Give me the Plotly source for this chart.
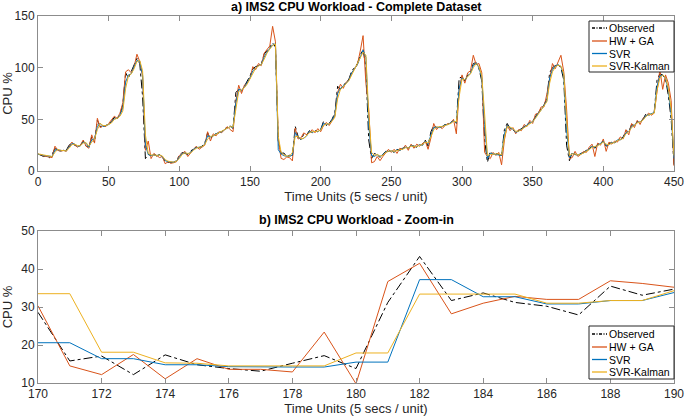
import plotly.graph_objects as go

# ---------------- data ----------------
t_full = list(range(0, 451, 2))

observed_full = [
    16.5, 15, 14, 15, 12.8, 16, 22, 19, 20, 19.5,
    20, 25, 27, 25, 24, 24.5, 29, 24, 23, 33,
    28, 49, 43, 42.5, 44, 45.5, 48, 52, 50, 55,
    64, 95, 90, 96, 103, 109, 104, 72, 12, 16,
    15, 16, 14.5, 16, 13, 9, 8.5, 8, 8.5, 10,
    15, 18, 17, 16, 19, 22, 23, 22.5, 24, 27,
    37, 31, 35, 36, 37.5, 38, 41, 42, 44, 41,
    76, 79, 77, 82, 86, 92, 99, 101, 102, 103.5,
    113, 116, 120, 124, 120, 28.6, 17.1, 17.4, 13.8, 15.2,
    13.8, 43.3, 33.7, 30.2, 35.5, 34.7, 39, 37, 39, 38,
    40, 48, 44, 46, 50, 56, 82, 79, 83, 86,
    89, 97, 100, 104, 112, 118, 100, 30, 12, 17,
    16, 13, 16, 19, 19, 20, 18, 21, 20, 22,
    23, 22, 25, 24, 23, 26, 25, 30, 24, 38,
    44, 42, 42, 43, 45, 45, 47, 49, 46, 90,
    91, 87, 93, 95, 104, 105, 99, 87, 30, 8.5,
    19, 16, 17, 16, 15, 40, 46, 41, 40, 37,
    39, 41, 43, 45, 47, 48, 53, 57, 60, 64,
    70, 95, 100, 102, 103, 100, 88, 25, 10, 18,
    16, 15, 17, 18, 20, 21, 25, 22, 26, 27,
    29, 24, 26, 28, 27, 31, 30, 33, 39, 38,
    45, 44, 48, 47, 50, 55, 54, 55, 57, 88,
    94, 93, 89, 73, 50, 6,
]

hwga_full = [
    16, 16, 14.5, 14, 14, 13, 24, 20, 19, 20,
    19, 24, 28, 25, 23, 25, 30, 24, 22, 35,
    27, 51, 42, 44, 43, 46, 49, 53, 51, 56,
    66, 96, 98, 95, 101, 113, 106, 92, 20, 29,
    12, 17, 15, 13, 14, 7, 9, 7.5, 8, 9,
    15, 17, 19, 14, 18, 21, 24, 21, 23, 25,
    38, 29, 36, 34, 38, 37, 40, 43, 40, 38,
    68, 83, 75, 83, 85, 90, 101, 98, 104, 102,
    114, 117, 121, 140, 125, 30.3, 12.2, 11.1, 13.6, 12.9,
    9.8, 41.5, 31.0, 32.0, 36.9, 35.2, 37, 40, 37, 41,
    38, 44, 47, 44, 48, 53, 76, 84, 80, 86,
    88, 95, 99, 103, 116, 131, 85, 60, 8, 9,
    14, 10, 14, 18, 21, 18, 21, 17, 22, 21,
    25, 20, 26, 22, 26, 24, 27, 29, 21, 32,
    46, 40, 43, 41, 44, 46, 46, 50, 36, 78,
    93, 85, 95, 97, 112, 103, 104, 95, 18, 14,
    12, 18, 15, 18, 6, 30, 44, 39, 42, 36,
    40, 39, 45, 43, 49, 46, 55, 56, 62, 62,
    74, 90, 104, 99, 106, 112, 96, 60, 12, 13,
    19, 14, 16, 19, 18, 23, 26, 14, 27, 25,
    31, 19, 28, 26, 29, 28, 33, 31, 40, 35,
    46, 42, 49, 45, 51, 53, 56, 54, 56, 75,
    98, 79, 93, 85, 68, 5,
]

svr_full = [
    16, 16, 15, 14.5, 14, 14, 20, 21, 19.5, 20,
    19.5, 23, 26.5, 26, 24, 24.5, 28, 27, 23, 30,
    31, 43, 46, 43, 44, 45, 47, 50.5, 51, 54,
    61, 86, 93, 94, 101, 107, 106, 93, 25, 16,
    15, 15.5, 15, 15.5, 14, 10, 9, 8.5, 8.5, 9.5,
    13, 17, 17.5, 16.5, 18, 21, 22.5, 23, 23.5, 26,
    34, 33, 34, 36, 37, 38, 40, 41.5, 43, 42,
    66, 79, 78, 81, 85, 90, 97, 100, 102, 103,
    110, 115, 119, 122, 123, 20.6, 16.4, 14.8, 14.3, 14.2,
    15.5, 37.2, 32.7, 30.8, 31.7, 33.8, 38, 37.5, 38.5, 38,
    40, 46, 45, 45.5, 49, 54, 75, 80, 82, 85,
    88, 95, 99, 103, 110, 117, 110, 45, 15, 14,
    16, 14, 15.5, 18.5, 19, 19.5, 18.5, 20.5, 20, 21.5,
    23, 22.5, 24.5, 24, 23.5, 25.5, 25, 29, 26, 35,
    42, 42.5, 42, 43, 44.5, 45, 46.5, 48.5, 47, 80,
    90, 88, 92, 94.5, 102, 104.5, 100, 90, 45, 12,
    17, 16.5, 16.5, 16, 15, 36, 44, 42, 40.5, 37.5,
    38.5, 40.5, 42.5, 44.5, 46.5, 47.5, 52, 56, 59, 63,
    68, 90, 98, 101.5, 103, 101, 92, 40, 13, 17,
    16, 15.5, 16.5, 17.5, 19.5, 21, 24, 23, 25, 26.5,
    28.5, 25, 25.5, 27.5, 27.5, 30, 30.5, 32, 37, 38,
    43, 44.5, 47, 47.5, 49.5, 53.5, 54.5, 55, 56.5, 82,
    92, 93, 90, 78, 55, 12,
]

svrk_full = [
    16.5, 16, 15.5, 14.5, 14.5, 14, 18, 21, 20, 20,
    19.5, 22, 25.5, 26, 24.5, 24.5, 27, 27.5, 24, 28,
    31, 40, 46, 44, 44, 45, 46.5, 50, 51, 53,
    58, 80, 92, 94, 99, 106, 107, 97, 35, 17,
    15.5, 15.5, 15, 15.5, 14.5, 11, 9.5, 9, 8.5, 9.5,
    12, 16, 17.5, 17, 17.5, 20, 22, 23, 23.5, 25.5,
    31, 33.5, 34, 35.5, 37, 38, 39.5, 41, 43, 42.5,
    60, 77, 78.5, 80.5, 84, 89, 95, 99.5, 101.5, 103,
    108, 114, 118, 121.5, 123, 33.5, 18.1, 15.3, 14.5, 14.5,
    17.9, 33.4, 33.4, 31.0, 31.7, 34.3, 37, 38, 38, 38.5,
    39.5, 44, 45.5, 45.5, 48, 52, 70, 79, 81.5, 84.5,
    87.5, 93, 98.5, 102.5, 108, 115, 112, 55, 18, 15,
    16, 14.5, 15, 18, 19, 19.5, 19, 20, 20.5, 21,
    22.5, 22.5, 24, 24, 23.5, 25, 25.5, 28, 27, 33,
    40, 42.5, 42.5, 43, 44, 45, 46, 48, 47.5, 72,
    89, 88.5, 91, 94, 100, 104, 101, 92, 55, 15,
    16, 16.5, 16.5, 16.5, 15.5, 32, 43, 42.5, 41, 38.5,
    38.5, 40, 42, 44, 46, 47.5, 51, 55, 58.5, 62,
    67, 85, 96, 100.5, 102.5, 101.5, 94, 50, 15, 16.5,
    16.5, 15.5, 16, 17.5, 19, 20.5, 23, 23.5, 24.5, 26,
    28, 26, 25.5, 27, 27.5, 29.5, 30.5, 31.5, 36, 38,
    42, 44, 46.5, 47.5, 49, 52.5, 54.5, 55, 56, 78,
    90, 93, 90.5, 80, 60, 15,
]

t_zoom = list(range(170, 191))
observed_zoom = [28.6, 15.8, 17.1, 12.2, 17.4, 14.8, 13.8, 13.1, 15.2, 17.2, 13.8,
                 31.2, 43.3, 31.7, 33.7, 31.2, 30.2, 27.9, 35.5, 33.1, 34.7]
hwga_zoom = [30.3, 14.5, 12.2, 17.5, 11.1, 16.4, 13.6, 13.6, 12.9, 23.4, 9.8,
             36.7, 41.5, 28.2, 31.0, 32.8, 32.0, 32.0, 36.9, 36.2, 35.2]
svr_zoom = [20.6, 20.6, 16.4, 16.4, 14.8, 14.8, 14.3, 14.2, 14.2, 14.2, 15.5,
            15.5, 37.2, 37.2, 32.7, 32.7, 30.8, 30.8, 31.7, 31.7, 33.8]
svrk_zoom = [33.5, 33.5, 18.1, 18.1, 15.3, 15.2, 14.5, 14.5, 14.5, 14.5, 17.9,
             17.9, 33.4, 33.4, 33.4, 33.4, 31.0, 31.0, 31.7, 31.7, 34.3]

series_names = ["Observed", "HW + GA", "SVR", "SVR-Kalman"]
series_colors = ["#000000", "#D95319", "#0072BD", "#EDB120"]
series_dash = ["dashdot", "solid", "solid", "solid"]

top_ticks = [0, 50, 100, 150, 200, 250, 300, 350, 400, 450]
top_yticks = [0, 50, 100, 150]
zoom_ticks = [170, 172, 174, 176, 178, 180, 182, 184, 186, 188, 190]
zoom_yticks = [10, 20, 30, 40, 50]

title_a = "a) IMS2 CPU Workload - Complete Dataset"
title_b = "b) IMS2 CPU Workload - Zoom-in"
xlabel = "Time Units (5 secs / unit)"
ylabel = "CPU %"

# ---------------- layout geometry (pixels) ----------------
W, H = 685, 419
ML, MR, MT, MB = 38, 11, 16, 36
PW, PH = W - ML - MR, H - MT - MB


def px(x):
    return (x - ML) / PW


def py(y):
    return (H - MB - y) / PH


FONT = "Liberation Sans, Arial, Helvetica, sans-serif"
TXT = "#262626"
AX = "#8c8c8c"

fig = go.Figure()

full_sets = [observed_full, hwga_full, svr_full, svrk_full]
zoom_sets = [observed_zoom, hwga_zoom, svr_zoom, svrk_zoom]

for name, col, dash, ys in zip(series_names, series_colors, series_dash, full_sets):
    fig.add_trace(go.Scatter(x=t_full, y=ys, name=name, mode="lines",
                             line=dict(color=col, width=1, dash=dash),
                             xaxis="x", yaxis="y", showlegend=False))
for name, col, dash, ys in zip(series_names, series_colors, series_dash, zoom_sets):
    fig.add_trace(go.Scatter(x=t_zoom, y=ys, name=name, mode="lines",
                             line=dict(color=col, width=1, dash=dash),
                             xaxis="x2", yaxis="y2", showlegend=False))

axis_common = dict(showline=True, linecolor=AX, linewidth=1, mirror="ticks",
                   ticks="inside", ticklen=5, tickcolor=AX, tickwidth=1,
                   showgrid=False, zeroline=False, automargin=False,
                   tickfont=dict(family=FONT, size=12, color=TXT))

title_font = dict(size=13, family=FONT, color=TXT)

top_dom = [py(171), 1.0]
bot_dom = [0.0, py(231)]

fig.update_layout(
    width=W, height=H,
    margin=dict(l=ML, r=MR, t=MT, b=MB),
    paper_bgcolor="white", plot_bgcolor="white",
    font=dict(family=FONT, color=TXT),
    showlegend=False,
    xaxis=dict(domain=[0, 1], anchor="y", range=[0, 450], tickvals=top_ticks,
               title=dict(text=xlabel, font=title_font, standoff=0), **axis_common),
    yaxis=dict(domain=top_dom, anchor="x", range=[0, 150], tickvals=top_yticks,
               title=dict(text=ylabel, font=title_font, standoff=2), **axis_common),
    xaxis2=dict(domain=[0, 1], anchor="y2", range=[170, 190], tickvals=zoom_ticks,
                title=dict(text=xlabel, font=title_font, standoff=1), **axis_common),
    yaxis2=dict(domain=bot_dom, anchor="x2", range=[10, 50], tickvals=zoom_yticks,
                title=dict(text=ylabel, font=title_font, standoff=9), **axis_common),
)

annotations = [
    dict(text="<b>" + title_a + "</b>", x=px(356), y=py(7), xref="paper", yref="paper",
         showarrow=False, xanchor="center", yanchor="middle",
         font=dict(family=FONT, size=12.5, color="#000000")),
    dict(text="<b>" + title_b + "</b>", x=px(356), y=py(220), xref="paper", yref="paper",
         showarrow=False, xanchor="center", yanchor="middle",
         font=dict(family=FONT, size=12.5, color="#000000")),
]
shapes = []

# hand-built legends (MATLAB-style compact boxes)
legend_boxes = [(589, 21, 674, 72, [28, 41, 53.5, 66]),
                (589, 326, 674, 379, [334, 347, 359.5, 372])]
for (x0, y0, x1, y1, rows) in legend_boxes:
    shapes.append(dict(type="rect", xref="paper", yref="paper",
                       x0=px(x0), x1=px(x1), y0=py(y0), y1=py(y1),
                       fillcolor="white", line=dict(color="#262626", width=1), layer="above"))
    for name, col, dash, ry in zip(series_names, series_colors, series_dash, rows):
        shapes.append(dict(type="line", xref="paper", yref="paper",
                           x0=px(592), x1=px(607), y0=py(ry), y1=py(ry),
                           line=dict(color=col, width=1.3,
                                     dash="3px,1.5px,1px,1.5px" if dash == "dashdot" else "solid"),
                           layer="above"))
        annotations.append(dict(text=name, x=px(607), y=py(ry), xref="paper", yref="paper",
                                showarrow=False, xanchor="left", yanchor="middle",
                                font=dict(family=FONT, size=10.5, color="#000000")))

fig.update_layout(annotations=annotations, shapes=shapes)

fig.write_html("out.html",
               config={"displayModeBar": False},
               post_script="document.body.style.margin='0px';document.body.style.padding='0px';")
